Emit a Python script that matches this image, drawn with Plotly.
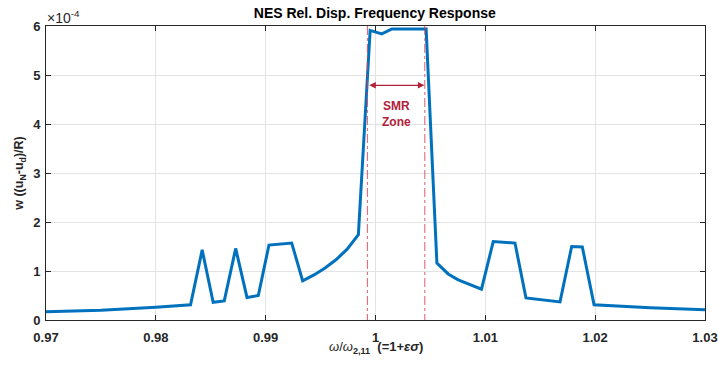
import plotly.graph_objects as go

# Frequency ratio omega/omega_{2,11}
freq = [0.9700, 0.9750, 0.9800, 0.98316, 0.98422, 0.98522, 0.98623, 0.98727, 0.98830,
        0.98933, 0.99030, 0.99237, 0.99337, 0.99440, 0.99541, 0.99640, 0.99740, 0.99844,
        0.99951, 1.00057, 1.00149, 1.00461, 1.00559, 1.00662, 1.00753, 1.00860, 1.00965,
        1.01072, 1.01270, 1.01370, 1.01680, 1.01786, 1.01883, 1.01990, 1.02500, 1.03000]
# Relative displacement (units of 1e-4)
disp = [0.17, 0.20, 0.26, 0.31, 1.43, 0.36, 0.39, 1.46, 0.46,
        0.50, 1.53, 1.57, 0.80, 0.92, 1.06, 1.23, 1.44, 1.74,
        5.91, 5.84, 5.94, 5.94, 1.16, 0.94, 0.82, 0.72, 0.63,
        1.60, 1.57, 0.45, 0.37, 1.50, 1.49, 0.31, 0.25, 0.21]

smr_bounds = [0.99926, 1.00449]
x_ticks = [0.97, 0.98, 0.99, 1.00, 1.01, 1.02, 1.03]
x_tick_text = ["0.97", "0.98", "0.99", "1", "1.01", "1.02", "1.03"]
y_ticks = [0, 1, 2, 3, 4, 5, 6]

RED = "#B0223A"
DASHRED = "rgba(214,60,85,0.85)"
AX = "#262626"
FONT = "Liberation Sans, Arial, sans-serif"

fig = go.Figure()
fig.add_trace(go.Scatter(x=freq, y=disp, mode="lines",
                         line=dict(color="#0072BD", width=3), showlegend=False))

for xb in smr_bounds:
    fig.add_shape(type="line", x0=xb, x1=xb, y0=-0.06, y1=6.08, xref="x", yref="y",
                  line=dict(color=DASHRED, width=1, dash="dashdot"), layer="above")

# double arrow
fig.add_annotation(x=smr_bounds[1] - 0.00003, y=4.79, ax=smr_bounds[0] + 0.00003, ay=4.79,
                   xref="x", yref="y", axref="x", ayref="y", text="",
                   showarrow=True, arrowhead=2, arrowside="end+start",
                   arrowsize=1.1, arrowwidth=1.2, arrowcolor=RED)
fig.add_annotation(x=(smr_bounds[0] + smr_bounds[1]) / 2 + 0.00003, y=4.2, xref="x", yref="y",
                   text="<b>SMR<br>Zone</b>", showarrow=False,
                   font=dict(family=FONT, size=12, color=RED), align="center")

fig.add_annotation(x=0, y=1, xref="paper", yref="paper", xanchor="left", yanchor="bottom",
                   text="×10<sup>-4</sup>", showarrow=False, yshift=-2, xshift=-1,
                   font=dict(family=FONT, size=14, color=AX))

# x-axis title
fig.add_annotation(x=0.5, y=0, xref="paper", yref="paper", xanchor="center", yanchor="middle",
                   yshift=-27, showarrow=False,
                   text="<i>ω</i>/<i>ω</i><sub><b>2,11</b></sub>  <b>(=1+<i>εσ</i>)</b>",
                   font=dict(family=FONT, size=13, color=AX))

fig.update_layout(
    width=718, height=365,
    margin=dict(l=46, r=13, t=26, b=45, autoexpand=False),
    paper_bgcolor="white", plot_bgcolor="white",
    font=dict(family=FONT, size=13, color=AX),
    title=dict(text="<b>NES Rel. Disp. Frequency Response</b>", x=0.522, xanchor="center",
               y=0.963, yanchor="middle", font=dict(size=14, color="black")),
)
fig.update_xaxes(range=[0.97, 1.03], tickvals=x_ticks, ticktext=["<b>%s</b>" % t for t in x_tick_text],
                 showgrid=True, gridcolor="#E3E3E3", gridwidth=1, zeroline=False,
                 showline=True, linecolor=AX, linewidth=1, mirror="ticks",
                 ticks="inside", ticklen=5, tickcolor=AX, automargin=False,
                 ticklabelstandoff=5, tickfont=dict(size=13))
fig.update_yaxes(range=[0, 6], tickvals=y_ticks, ticktext=["<b>%d</b>" % t for t in y_ticks],
                 showgrid=True, gridcolor="#E3E3E3", gridwidth=1, zeroline=False,
                 showline=True, linecolor=AX, linewidth=1, mirror="ticks",
                 ticks="inside", ticklen=5, tickcolor=AX, automargin=False,
                 ticklabelstandoff=2, tickfont=dict(size=13),
                 title=dict(text="<b>w ((u<sub>N</sub>-u<sub>d</sub>)/R)</b>", standoff=6,
                            font=dict(size=12.5, color=AX)))

fig.write_html("out.html")
